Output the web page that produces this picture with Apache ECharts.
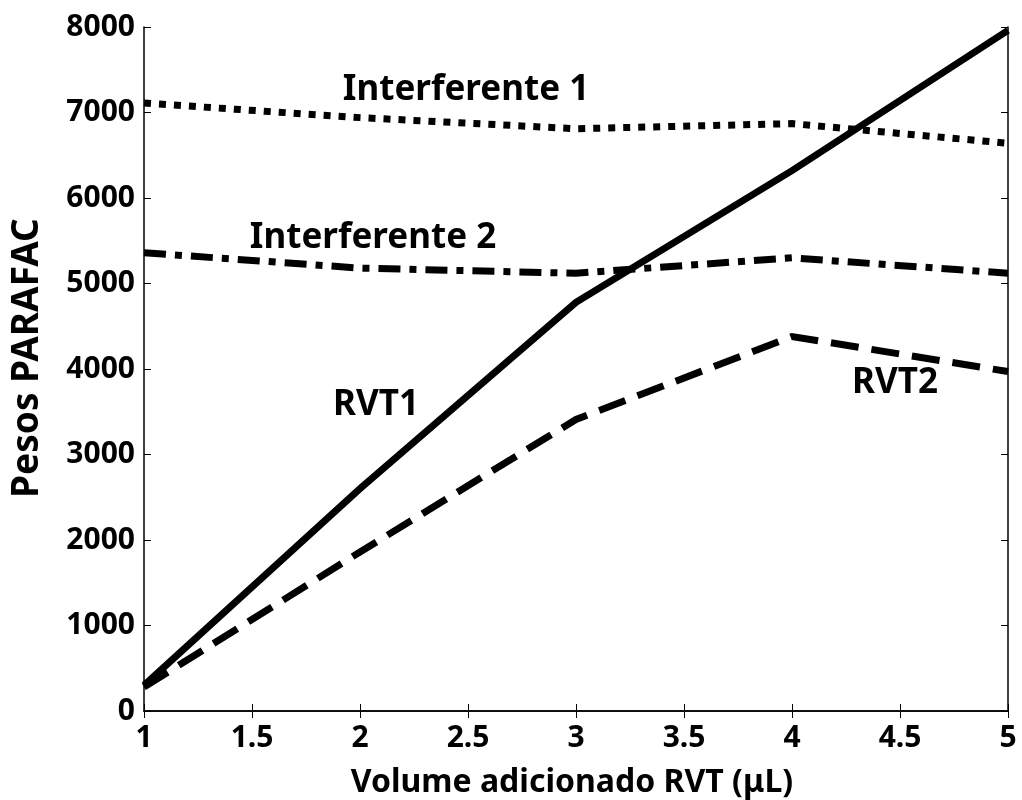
<!DOCTYPE html>
<html>
<head>
<meta charset="utf-8">
<script src="https://cdn.jsdelivr.net/npm/echarts@6/dist/echarts.min.js"></script>
<style>
  html, body { margin: 0; padding: 0; background: #fff; }
  #chart { width: 1022px; height: 800px; }
</style>
</head>
<body>
<div id="chart"></div>
<script>
// Volume of RVT added (µL)
const volumes = [1, 2, 3, 4, 5];
// PARAFAC weights per component
const rvt1 = [300, 2600, 4780, 6320, 7960];
const rvt2 = [280, 1860, 3410, 4380, 3970];
const interferente1 = [7110, 6940, 6810, 6870, 6640];
const interferente2 = [5360, 5180, 5120, 5300, 5120];
const xTicks = { min: 1, max: 5, interval: 0.5 };
const yTicks = { min: 0, max: 8000, interval: 1000 };

const FONT = '"Noto Sans"';
const pairs = ys => volumes.map((x, i) => [x, ys[i]]);

const chart = echarts.init(document.getElementById('chart'), null, { renderer: 'canvas' });

const frameLine = { show: true, lineStyle: { color: '#000', width: 1.5 } };
const inTicks = { show: true, inside: true, length: 7, lineStyle: { color: '#000', width: 1 } };
const tickText = { fontFamily: FONT, fontWeight: 'bold', fontSize: 30, color: '#000', formatter: v => String(v) };

function lineSeries(name, data, type, width) {
  return {
    name, type: 'line', data: pairs(data), symbol: 'none',
    lineStyle: { color: '#000', width: width, type: type, cap: 'butt', join: 'miter' },
    z: 3
  };
}

chart.setOption({
  animation: false,
  backgroundColor: '#fff',
  grid: { left: 144, right: 14, top: 27, bottom: 89, containLabel: false },
  xAxis: [
    {
      type: 'value', min: xTicks.min, max: xTicks.max, interval: xTicks.interval,
      position: 'bottom',
      axisLine: frameLine, axisTick: inTicks,
      axisLabel: Object.assign({ margin: 12 }, tickText),
      splitLine: { show: false }
    },
    {
      type: 'value', min: xTicks.min, max: xTicks.max, interval: xTicks.interval,
      position: 'top',
      axisLine: frameLine, axisTick: inTicks, axisLabel: { show: false },
      splitLine: { show: false }
    }
  ],
  yAxis: [
    {
      type: 'value', min: yTicks.min, max: yTicks.max, interval: yTicks.interval,
      position: 'left',
      axisLine: frameLine, axisTick: inTicks,
      axisLabel: Object.assign({ margin: 9 }, tickText),
      splitLine: { show: false }
    },
    {
      type: 'value', min: yTicks.min, max: yTicks.max, interval: yTicks.interval,
      position: 'right',
      axisLine: frameLine, axisTick: inTicks, axisLabel: { show: false },
      splitLine: { show: false }
    }
  ],
  series: [
    lineSeries('RVT1', rvt1, 'solid', 7),
    lineSeries('RVT2', rvt2, [28, 13], 7),
    lineSeries('Interferente 1', interferente1, [7, 8], 7),
    lineSeries('Interferente 2', interferente2, [22, 9, 7, 9], 7)
  ]
});

// Series names written next to their curves
const labels = [
  { text: 'Interferente 1', x: 466, y: 90 },
  { text: 'Interferente 2', x: 373, y: 238 },
  { text: 'RVT1', x: 376, y: 405 },
  { text: 'RVT2', x: 895, y: 383 }
];
const graphics = labels.map(l => ({
  type: 'text', x: l.x, y: l.y, z: 10,
  style: {
    text: l.text, fill: '#000', font: 'bold 35px ' + FONT,
    textAlign: 'center', textVerticalAlign: 'middle'
  }
}));
// Axis titles
graphics.push({
  type: 'text', x: 572, y: 783, z: 10,
  style: {
    text: 'Volume adicionado RVT (\u03bcL)', fill: '#000',
    font: 'bold 32px ' + FONT, textAlign: 'center', textVerticalAlign: 'middle'
  }
});
graphics.push({
  type: 'text', x: 27, y: 358, rotation: Math.PI / 2, z: 10,
  style: {
    text: 'Pesos PARAFAC', fill: '#000',
    font: 'bold 37px ' + FONT, textAlign: 'center', textVerticalAlign: 'middle'
  }
});
chart.setOption({ graphic: graphics });
</script>
</body>
</html>
